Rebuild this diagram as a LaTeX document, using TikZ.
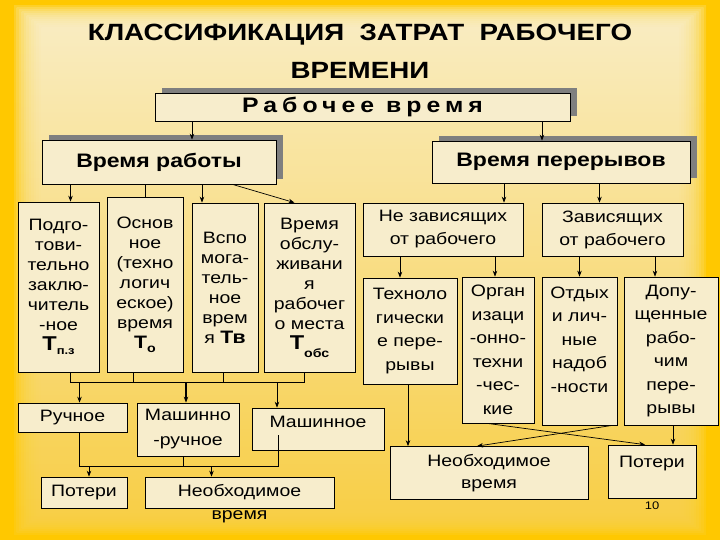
\documentclass[tikz,border=0pt]{standalone}
\usepackage{fontspec}
\setmainfont{Liberation Sans}[FakeStretch=1.18]
\usetikzlibrary{positioning,arrows.meta,shadows,calc}
\definecolor{bgGold}{HTML}{FFC800}
\definecolor{bgTop}{HTML}{F9F0D0}
\definecolor{bgBot}{HTML}{F8D24E}
\definecolor{boxCream}{HTML}{F7EDCC}
\definecolor{shadowGray}{HTML}{7F7F7F}

\begin{document}
\begin{tikzpicture}[
  x=1pt,y=-1pt,
  box/.style={draw,fill=boxCream,line width=0.7pt,inner sep=0pt,align=center,font=\fontsize{16.5}{20}\selectfont},
  wide/.style={box,font=\fontsize{16.5}{23.5}\selectfont},
  head/.style={box,font=\bfseries\fontsize{19.5}{22}\selectfont,
    drop shadow={shadow xshift=7pt,shadow yshift=5pt,fill=shadowGray,opacity=1}},
  arr/.style={line width=0.7pt,-{Stealth[length=6pt,width=4.5pt]}},
  link/.style={line width=0.7pt}
]
% background
\useasboundingbox (0,0) rectangle (720,540);
\fill[bgGold] (0,0) rectangle (720,540);
\foreach \i in {0,...,11}
  \shade[top color=bgTop,bottom color=bgBot,opacity=0.2] (14+2.5*\i,6+2*\i) rectangle (706-2.5*\i,534-2*\i);

\node[font=\bfseries\fontsize{23.5}{38}\selectfont,align=center] (title) at (360,51)
  {КЛАССИФИКАЦИЯ\ \ ЗАТРАТ\ \ РАБОЧЕГО\\ВРЕМЕНИ};

% top levels
\node[head,font=\bfseries\fontsize{21}{22}\selectfont,minimum width=415pt,minimum height=28pt] (rab) at (362.5,107)
  {\addfontfeatures{LetterSpace=24}Рабочее время};
\node[head,minimum width=234pt,minimum height=44pt] (rabt) at (159,162) {Время работы};
\node[head,minimum width=258pt,minimum height=42pt] (per) at (561,162) {Время перерывов};

% work time
\node[box,minimum width=81pt,minimum height=170pt] (pz) at (58.5,287)
  {Подго-\\тови-\\тельно\\заклю-\\читель\\-ное\\{\fontsize{20}{20}\selectfont\bfseries Т}\raisebox{-4pt}{\fontsize{11}{11}\selectfont\bfseries п.з}};
\node[box,minimum width=76pt,minimum height=175pt] (osn) at (145,284.5)
  {Основ\\ное\\(техно\\логич\\еское)\\время\\{\fontsize{18}{18}\selectfont\bfseries Т}\raisebox{-4pt}{\fontsize{12}{12}\selectfont\bfseries о}};
\node[box,minimum width=66pt,minimum height=169pt] (vsp) at (225,287.5)
  {Вспо\\мога-\\тель-\\ное\\врем\\я {\fontsize{18}{18}\selectfont\bfseries Тв}};
\node[box,minimum width=91pt,minimum height=169pt] (obs) at (309.5,287.5)
  {Время\\обслу-\\живани\\я\\рабочег\\о места\\{\fontsize{20}{20}\selectfont\bfseries Т}\raisebox{-8pt}{\fontsize{12}{12}\selectfont\bfseries обс}};

% break time
\node[box,font=\fontsize{16.5}{23}\selectfont,minimum width=160pt,minimum height=53pt] (nez) at (443,229.5) {Не зависящих\\от рабочего};
\node[box,font=\fontsize{16.5}{23}\selectfont,minimum width=141pt,minimum height=53pt] (zav) at (612.5,229.5) {Зависящих\\от рабочего};
\node[wide,minimum width=94pt,minimum height=106pt] (tex) at (410,331) {Техноло\\гически\\е пере-\\рывы};
\node[wide,minimum width=72pt,minimum height=146pt] (org) at (498,350) {Орган\\изаци\\-онно-\\техни\\-чес-\\кие};
\node[wide,minimum width=75pt,minimum height=148pt] (otd) at (579.5,351) {Отдых\\и лич-\\ные\\надоб\\-ности\\\mbox{}};
\node[wide,minimum width=94pt,minimum height=148pt] (dop) at (671,351) {Допу-\\щенные\\рабо-\\чим\\пере-\\рывы};

% operations
\node[box,minimum width=109pt,minimum height=29pt] (ruch) at (72.5,417.5) {Ручное};
\node[box,font=\fontsize{16.5}{25}\selectfont,minimum width=102pt,minimum height=53pt] (mr) at (188,429.5) {Машинно\\-ручное};
\node[box,minimum width=132pt,minimum height=42pt] (mash) at (318,429) {Машинное\\[-6pt]\mbox{}};
\node[box,minimum width=86pt,minimum height=31pt] (potl) at (84,492.5) {Потери};
\node[box,minimum width=189pt,minimum height=31pt,
  label={[name=neolb,font=\fontsize{16.5}{20}\selectfont,inner sep=0pt,yshift=-2pt]below:время}] (neol) at (239.5,492.5) {Необходимое};
\node[box,font=\fontsize{16.5}{22}\selectfont,minimum width=198pt,minimum height=53pt] (neor) at (489,473) {Необходимое\\время};
\node[box,minimum width=88pt,minimum height=53pt] (potr) at (652,471.5) {Потери\\\mbox{}};
\node[font=\fontsize{11}{11}\selectfont] (pg) at (652,506) {10};

% connectors from the top
\draw[arr] ([xshift=33pt]rabt.north |- rab.south) -- ([xshift=33pt]rabt.north);
\draw[arr] ([xshift=-19pt]per.north |- rab.south) -- ([xshift=-19pt]per.north);
\draw[arr] ([xshift=12pt]pz.north |- rabt.south) -- ([xshift=12pt]pz.north);
\draw[link] (osn.north |- rabt.south) -- (osn.north);
\draw[arr] ([xshift=-23pt]vsp.north |- rabt.south) -- ([xshift=-23pt]vsp.north);
\draw[arr] ([xshift=-44pt]rabt.south east) -- ([xshift=-15pt]obs.north);

\draw[arr] ([xshift=61pt]nez.north |- per.south) -- ([xshift=61pt]nez.north);
\draw[arr] ([xshift=-13pt]zav.north |- per.south) -- ([xshift=-13pt]zav.north);
\draw[arr] ([xshift=-10pt]tex.north |- nez.south) -- ([xshift=-10pt]tex.north);
\draw[arr] ([xshift=-3pt]org.north |- nez.south) -- ([xshift=-3pt]org.north);
\draw[arr] (otd.north |- zav.south) -- (otd.north);
\draw[arr] ([xshift=-16pt]dop.north |- zav.south) -- ([xshift=-16pt]dop.north);

% lower right
\draw[arr] ([xshift=-2pt]tex.south) -- ([xshift=-2pt]tex.south |- neor.north);
\draw[arr] ([xshift=-11pt]org.south) -- ([xshift=-7pt]potr.north);
\draw[arr] ([xshift=33pt]otd.south) -- ([xshift=-12pt]neor.north);
\draw[arr] ([xshift=2pt]dop.south) -- ([xshift=2pt]dop.south |- potr.north);

% lower left buses
\coordinate (bus) at (0,382);
\coordinate (bus2) at (0,466);
\coordinate (mashdrop) at ([xshift=-40pt,yshift=15pt]mash.south);
\draw[link] ([xshift=12pt]pz.south) |- ([xshift=-5pt]obs.south |- bus) -- ([xshift=-5pt]obs.south);
\draw[link] ([xshift=-12pt]osn.south) -- ([xshift=-12pt]osn.south |- bus);
\draw[link] ([xshift=-2pt]vsp.south) -- ([xshift=-2pt]vsp.south |- bus);
\draw[arr] ([xshift=7pt]ruch.north |- bus) -- ([xshift=7pt]ruch.north);
\draw[arr,line width=1.2pt] ([xshift=-2pt]mr.north |- bus) -- ([xshift=-2pt]mr.north);
\draw[arr] ([xshift=-41pt]mash.north |- bus) -- ([xshift=-41pt]mash.north);

\draw[link] ([xshift=7pt]ruch.south) |- (mashdrop |- bus2) -- (mashdrop);
\draw[link] ([xshift=-5pt]mr.south) -- ([xshift=-5pt]mr.south |- bus2);
\draw[arr] ([xshift=5pt]potl.north |- bus2) -- ([xshift=5pt]potl.north);
\draw[arr] ([xshift=-28pt]neol.north |- bus2) -- ([xshift=-28pt]neol.north);
\end{tikzpicture}
\end{document}
